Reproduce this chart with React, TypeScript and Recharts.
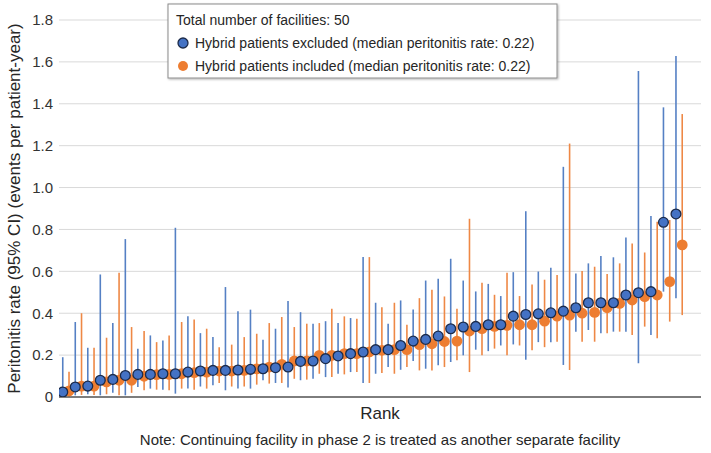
import React from 'react';
import { ScatterChart, Scatter, XAxis, YAxis, CartesianGrid, ErrorBar } from 'recharts';

const FONT = '"Liberation Sans", Arial, Helvetica, sans-serif';

// Hybrid patients excluded (blue), sorted by rate
const blueRate = [0.024, 0.048, 0.052, 0.08, 0.084, 0.103, 0.108, 0.108, 0.111, 0.111,
  0.119, 0.124, 0.127, 0.127, 0.129, 0.132, 0.135, 0.14, 0.143, 0.17,
  0.172, 0.183, 0.196, 0.207, 0.215, 0.226, 0.226, 0.246, 0.267, 0.275,
  0.291, 0.326, 0.334, 0.337, 0.345, 0.345, 0.386, 0.394, 0.397, 0.402,
  0.41, 0.426, 0.45, 0.45, 0.45, 0.487, 0.498, 0.503, 0.834, 0.874];
const blueLower = [0.0, 0.008, 0.013, 0.008, 0.02, 0.008, 0.048, 0.04, 0.035, 0.016,
  0.04, 0.05, 0.056, 0.032, 0.04, 0.04, 0.08, 0.067, 0.045, 0.08,
  0.087, 0.095, 0.111, 0.119, 0.067, 0.111, 0.143, 0.13, 0.172, 0.135,
  0.151, 0.167, 0.199, 0.226, 0.219, 0.246, 0.251, 0.178, 0.262, 0.262,
  0.153, 0.312, 0.32, 0.304, 0.312, 0.312, 0.161, 0.296, 0.503, 0.471];
const blueUpper = [0.19, 0.358, 0.235, 0.585, 0.353, 0.754, 0.23, 0.294, 0.27, 0.808,
  0.386, 0.305, 0.286, 0.525, 0.41, 0.417, 0.273, 0.326, 0.458, 0.405,
  0.35, 0.362, 0.353, 0.377, 0.668, 0.45, 0.35, 0.461, 0.418, 0.556,
  0.564, 0.66, 0.556, 0.504, 0.54, 0.482, 0.596, 0.887, 0.599, 0.617,
  1.099, 0.59, 0.638, 0.673, 0.667, 0.762, 1.556, 0.864, 1.383, 1.628];

// Hybrid patients included (orange), sorted by rate
const orangeRate = [0.029, 0.052, 0.052, 0.072, 0.08, 0.08, 0.099, 0.107, 0.108, 0.111,
  0.116, 0.119, 0.124, 0.124, 0.127, 0.134, 0.143, 0.156, 0.172, 0.172,
  0.199, 0.199, 0.207, 0.207, 0.215, 0.223, 0.226, 0.226, 0.25, 0.254,
  0.265, 0.267, 0.315, 0.326, 0.337, 0.342, 0.345, 0.345, 0.362, 0.386,
  0.391, 0.4, 0.404, 0.426, 0.447, 0.463, 0.479, 0.487, 0.551, 0.726];
const orangeLower = [0.0, 0.01, 0.01, 0.013, 0.008, 0.02, 0.032, 0.035, 0.032, 0.04,
  0.035, 0.04, 0.067, 0.05, 0.05, 0.059, 0.064, 0.067, 0.087, 0.083,
  0.111, 0.095, 0.108, 0.119, 0.067, 0.114, 0.111, 0.143, 0.127, 0.127,
  0.143, 0.175, 0.119, 0.199, 0.231, 0.199, 0.246, 0.223, 0.238, 0.264,
  0.129, 0.264, 0.264, 0.304, 0.312, 0.296, 0.336, 0.28, 0.36, 0.391];
const orangeUpper = [0.12, 0.4, 0.235, 0.283, 0.593, 0.334, 0.315, 0.262, 0.294, 0.358,
  0.37, 0.326, 0.238, 0.25, 0.286, 0.302, 0.353, 0.382, 0.334, 0.35,
  0.353, 0.421, 0.385, 0.374, 0.668, 0.429, 0.45, 0.345, 0.472, 0.512,
  0.48, 0.421, 0.851, 0.545, 0.488, 0.593, 0.482, 0.537, 0.56, 0.582,
  1.21, 0.601, 0.622, 0.587, 0.638, 0.733, 0.69, 0.837, 0.845, 1.351];

const yTicks = [0, 0.2, 0.4, 0.6, 0.8, 1.0, 1.2, 1.4, 1.6, 1.8];

const legendTitle = 'Total number of facilities: 50';
const blueName = 'Hybrid patients excluded (median peritonitis rate: 0.22)';
const orangeName = 'Hybrid patients included (median peritonitis rate: 0.22)';
const yTitle = 'Peritonitis rate (95% CI) (events per patient-year)';
const xTitle = 'Rank';
const noteText = 'Note: Continuing facility in phase 2 is treated as another separate facility';

const BLUE = '#4472C4';
const BLUE_EDGE = '#1c2b4a';
const BLUE_BAR = '#5580c4';
const ORANGE = '#ED7D31';
const ORANGE_BAR = '#EE8845';

const blueData = blueRate.map((v, i) => ({ x: i + 1, y: v, err: [v - blueLower[i], blueUpper[i] - v] }));
const orangeData = orangeRate.map((v, i) => ({ x: i + 1.5, y: v, err: [v - orangeLower[i], orangeUpper[i] - v] }));

const BlueDot = (p: any) => (
  <circle cx={p.cx} cy={p.cy} r={4.9} fill={BLUE} stroke={BLUE_EDGE} strokeWidth={1.3} />
);
const OrangeDot = (p: any) => (
  <circle cx={p.cx} cy={p.cy} r={5.4} fill={ORANGE} />
);

const XLabel = (props: any) => {
  const vb = props.viewBox || { x: 59, y: 397, width: 642, height: 56 };
  const cx = vb.x + vb.width / 2;
  return (
    <g>
      <text x={cx} y={419} textAnchor="middle" fontFamily={FONT} fontSize={17} fill="#262626">{xTitle}</text>
      <text x={cx} y={445} textAnchor="middle" fontFamily={FONT} fontSize={15} fill="#262626">{noteText}</text>
    </g>
  );
};

const YLabel = (props: any) => {
  const vb = props.viewBox || { x: 0, y: 20, width: 59, height: 377 };
  const cy = vb.y + vb.height / 2;
  return (
    <text x={14} y={cy} transform={`rotate(-90, 14, ${cy})`} textAnchor="middle" dominantBaseline="central"
      fontFamily={FONT} fontSize={17} fill="#262626">{yTitle}</text>
  );
};

export default function App() {
  return (
    <div style={{ position: 'absolute', left: 0, top: 0, width: 711, height: 453, background: '#fff', fontFamily: FONT }}>
      <ScatterChart width={711} height={453} margin={{ top: 20, right: 10, bottom: 0, left: 0 }}>
        <CartesianGrid vertical={false} stroke="#d9d9d9" strokeWidth={1} />
        <XAxis type="number" dataKey="x" domain={[0.7, 52]} allowDataOverflow tick={false} tickLine={false}
          axisLine={{ stroke: '#595959', strokeWidth: 1.6 }} height={56} label={<XLabel />} />
        <YAxis type="number" dataKey="y" domain={[0, 1.8]} ticks={yTicks} allowDataOverflow width={59}
          axisLine={false} tickLine={false} tickSize={0} tickMargin={6}
          tickFormatter={(v: number) => (v === 0 ? '0' : v.toFixed(1))}
          tick={{ fontSize: 15, fill: '#333', fontFamily: FONT }} label={<YLabel />} />
        <Scatter name={orangeName} data={orangeData} shape={OrangeDot} isAnimationActive={false}>
          <ErrorBar dataKey="err" direction="y" width={0} stroke={ORANGE_BAR} strokeWidth={1.6} isAnimationActive={false} />
        </Scatter>
        <Scatter name={blueName} data={blueData} shape={BlueDot} isAnimationActive={false}>
          <ErrorBar dataKey="err" direction="y" width={0} stroke={BLUE_BAR} strokeWidth={1.6} isAnimationActive={false} />
        </Scatter>
      </ScatterChart>
      <svg width={392} height={78} style={{ position: 'absolute', left: 167, top: 3, overflow: 'visible' }}>
        <defs>
          <filter id="sh" x="-5%" y="-5%" width="110%" height="120%">
            <feDropShadow dx="1" dy="1" stdDeviation="1" floodColor="#000" floodOpacity="0.3" />
          </filter>
        </defs>
        <rect x={1} y={1} width={389} height={74} fill="#fff" stroke="#8c8c8c" strokeWidth={1} filter="url(#sh)" />
        <text x={9} y={22} fontFamily={FONT} fontSize={14} fill="#262626">{legendTitle}</text>
        <circle cx={16} cy={40} r={5} fill={BLUE} stroke={BLUE_EDGE} strokeWidth={1.3} />
        <text x={28} y={45} fontFamily={FONT} fontSize={14} fill="#262626">{blueName}</text>
        <circle cx={16} cy={63} r={5} fill={ORANGE} />
        <text x={28} y={68} fontFamily={FONT} fontSize={14} fill="#262626">{orangeName}</text>
      </svg>
    </div>
  );
}
